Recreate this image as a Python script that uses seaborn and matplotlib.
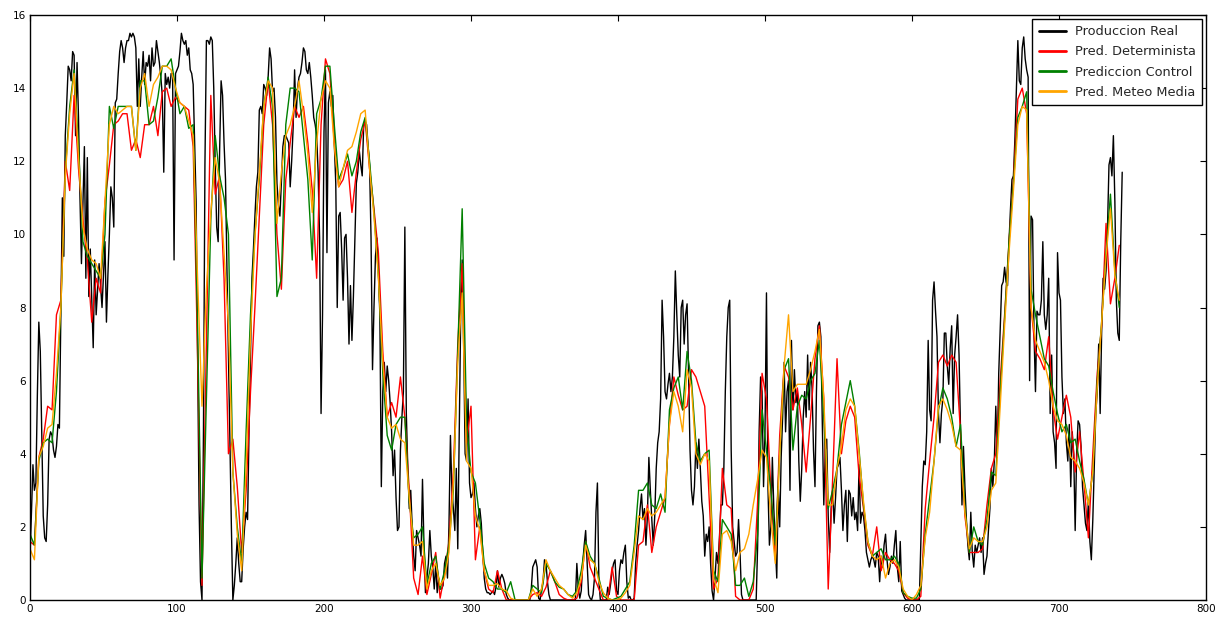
import numpy as np
import pandas as pd
import seaborn as sns
import matplotlib
matplotlib.use("Agg")
import matplotlib.pyplot as plt

# Hourly measured production, split by stretches of the month
real_a = [  # hours 0-135
    1.2, 2.4, 3.7, 3.0, 3.2, 5.6, 7.6, 6.8, 4.5, 2.3,
    1.7, 1.6, 2.6, 4.4, 4.6, 4.5, 4.1, 3.9, 4.2, 4.8,
    4.7, 7.9, 11.0, 9.4, 12.7, 13.6, 14.6, 14.5, 14.2, 15.0,
    14.9, 12.7, 14.7, 13.2, 11.0, 9.2, 10.8, 12.4, 8.8, 12.1,
    8.3, 9.6, 8.2, 6.9, 9.3, 7.8, 8.5, 9.2, 8.6, 8.0,
    8.9, 9.8, 7.6, 8.9, 10.0, 11.3, 11.0, 10.2, 13.6, 13.7,
    14.4, 15.0, 15.3, 15.1, 14.7, 15.1, 15.3, 15.3,
    15.5, 15.4, 15.5, 15.4, 15.1, 13.5, 14.8, 13.5, 14.3, 15.0,
    14.1, 14.7, 14.6, 14.9, 14.2, 15.1, 14.6, 14.7, 15.3, 15.0,
    14.7, 14.3, 13.8, 11.7, 14.4, 14.1, 14.3, 14.0, 14.4, 14.4,
    9.3, 14.4, 14.5, 14.6, 15.0, 15.5, 15.3, 15.2, 15.3, 14.9,
    15.1, 14.5, 14.4, 14.1, 12.5, 10.9, 6.7, 2.6, 0.5, 0.0,
    4.6, 11.9, 15.3, 15.3, 15.2, 15.4, 15.3, 14.0, 11.9, 10.2,
    9.8, 12.3, 14.2, 13.8, 12.5, 11.5, 9.0, 6.7,
]
real_b = [  # hours 136-270
    4.3, 2.0, 0.0, 0.4, 1.0, 1.7, 1.0, 0.5, 0.5, 1.4,
    2.0, 2.4, 2.2, 4.6, 6.7, 8.8, 9.6, 10.5, 11.3, 11.7,
    13.4, 13.5, 13.3, 14.1, 14.0, 13.8, 14.3, 15.1, 14.8, 13.9,
    14.0, 13.2, 11.4, 10.8, 10.5, 11.4, 12.4, 12.7, 12.7, 12.6,
    12.5, 11.3, 12.0, 12.9, 14.5, 13.2, 14.0, 14.3, 14.4, 14.7,
    15.1, 15.0, 14.5, 14.4, 14.7, 14.3, 13.8, 13.2, 13.0, 12.7,
    11.7, 9.9, 5.1, 7.8, 12.8, 14.5,
    9.5, 13.6, 13.9, 13.5, 13.8, 12.5, 11.4, 8.0, 10.5, 10.6,
    9.6, 8.2, 9.9, 10.0, 8.8, 7.0, 8.6, 7.1, 8.3, 9.9,
    11.4, 11.7, 12.3, 11.9, 11.6, 13.0, 13.1, 13.0, 12.4, 11.9,
    9.9, 6.3, 8.0, 9.4, 9.9, 9.0, 7.8, 3.1, 5.7, 6.5,
    5.7, 6.4, 6.0, 5.4, 4.6, 3.4, 4.1, 2.8, 1.9, 2.0,
    4.1, 5.0, 5.7, 10.2, 5.1, 3.6, 2.5, 3.0, 2.0, 1.2,
    0.8, 1.9, 1.7, 1.5, 1.2, 3.3, 1.5, 0.2, 0.6,
]
real_c = [  # hours 271-404
    1.0, 1.9, 1.2, 0.9, 0.3, 1.0, 0.2, 0.6, 0.3, 0.3,
    0.4, 1.0, 1.2, 0.6, 2.0, 4.5, 3.0, 2.5, 1.9, 3.6,
    1.4, 4.6, 7.8, 9.3, 7.0, 4.0, 3.8, 5.5, 3.2, 2.8,
    2.9, 3.2, 2.5, 2.0, 2.3, 2.5, 2.1, 1.3, 0.6, 0.3,
    0.2, 0.2, 0.15, 0.2, 0.25, 0.15, 0.35, 0.8, 0.35, 0.6,
    0.7, 0.6, 0.45, 0.15, 0.05, 0.0, 0.0, 0.0, 0.0, 0.0,
    0.0, 0.0, 0.0, 0.0, 0.0, 0.0, 0.0, 0.0, 0.0, 0.0,
    0.3, 0.9, 1.0, 1.1, 0.9, 0.05, 0.0, 0.3, 0.5, 1.1,
    1.0, 0.5, 0.15, 0.0, 0.0, 0.0, 0.0, 0.0, 0.0, 0.0,
    0.0, 0.0, 0.0, 0.0, 0.0, 0.0, 0.0, 0.0, 0.0, 0.0,
    0.0, 1.0, 0.3, 0.05, 0.25, 1.0, 1.5, 1.9, 1.0, 0.15,
    0.05, 0.0, 0.15, 0.6, 2.4, 3.2, 0.5, 0.0, 0.0, 0.0,
    0.0, 0.0, 0.35, 0.15, 0.45, 0.8, 1.0, 1.1, 0.25, 0.15,
    0.8, 1.1, 1.0, 1.3,
]
real_d = [  # hours 405-544
    1.5, 0.5, 0.05, 0.1, 0.0, 0.0, 0.05, 1.0, 1.5, 1.9,
    2.5, 2.9, 2.2, 2.5, 1.5, 2.3, 3.9, 3.0, 2.2, 1.5,
    2.3, 3.6, 4.3, 4.6, 5.5, 8.2, 7.2, 5.7, 5.5, 5.9,
    6.2, 5.7, 6.1, 7.2, 9.0, 7.8, 6.7, 6.1, 8.0, 8.2,
    7.0, 7.8, 8.1, 6.2, 4.1, 3.0, 2.6, 3.1, 4.3, 3.6,
    4.4, 3.6, 2.7, 2.3, 1.2, 1.8, 1.6, 2.0, 1.0, 0.25,
    0.0, 0.6, 1.3, 1.0, 1.7, 2.6, 2.6, 3.6, 5.7, 7.2,
    8.0, 8.2, 4.1, 2.0, 1.6, 1.2, 1.3, 2.2, 1.3, 0.15,
    0.0, 0.0, 0.0, 0.0, 0.0, 0.0, 0.0, 0.0, 0.0, 0.0,
    1.5, 4.6, 6.1, 5.7, 3.1, 4.6, 8.4, 3.1, 1.5, 2.0,
    3.9, 2.5, 1.5, 0.6, 3.1, 2.0, 3.9, 5.0, 6.5, 4.6,
    5.7, 6.0, 3.0, 7.1, 5.2, 6.3, 5.4, 5.7, 3.8, 2.7,
    3.6, 5.0, 5.7, 5.0, 6.7, 5.2, 6.5, 5.8, 4.1, 3.1,
    5.7, 7.5, 7.6, 7.2, 4.8, 2.6, 4.1, 4.4, 2.3, 1.3,
]
real_e = [  # hours 545-743
    2.5, 3.0, 2.1, 2.8, 3.6, 3.7, 3.9, 3.0, 1.9, 2.6,
    3.0, 1.6, 3.0, 2.9, 2.3, 2.8, 2.2, 2.4, 1.9, 3.7,
    2.1, 2.4, 2.3, 1.9, 1.3, 1.1, 0.9, 1.1, 1.2, 1.1,
    0.9, 1.3, 1.2, 0.5, 1.2, 0.9, 1.5, 1.8, 1.1, 0.7,
    0.9, 1.2, 1.0, 1.5, 1.9, 0.9, 0.5, 1.6, 0.25, 0.15,
    0.05, 0.0, 0.0, 0.0, 0.0, 0.0, 0.0, 0.0, 0.0, 0.0,
    0.0,
    1.5, 3.1, 3.8, 3.7, 4.6, 7.1, 5.2, 4.9, 8.2, 8.7,
    7.9, 7.2, 5.1, 4.3, 5.1, 5.5, 7.3, 7.3, 6.4, 5.9,
    6.9, 7.5, 5.1, 6.7, 7.2, 7.8, 6.7, 4.6, 2.6, 4.2,
    3.1, 2.2, 1.5, 1.1, 2.4, 1.3, 0.9, 1.5, 1.3, 1.5,
    1.7, 1.3, 1.7, 0.7, 1.0, 1.2, 1.9, 2.5, 3.6, 3.1,
    3.8, 5.3, 3.9, 6.2, 7.4, 8.6, 8.7, 9.1, 8.7, 8.6,
    9.8, 10.7, 11.5, 11.6, 12.6, 14.0, 15.3, 14.2, 14.1, 15.1,
    15.4, 14.8, 14.5, 14.3,
    6.0, 10.5, 10.4, 7.3, 5.7, 7.9, 7.8, 7.8, 8.2, 9.8,
    7.8, 7.4, 7.8, 8.8, 5.1, 6.7, 4.6, 4.3, 3.6, 9.5,
    8.4, 8.2, 6.1, 5.1, 5.5, 4.3, 3.8, 4.8, 3.1, 4.6,
    4.0, 1.9, 4.0, 4.9, 4.8, 4.2, 3.1, 2.6, 2.1, 1.9,
    2.7, 1.6, 1.1, 2.2, 3.6, 5.1, 5.7, 7.0, 5.1, 7.3,
    8.8, 8.5, 9.0, 10.2, 11.9, 12.1, 11.6, 12.7, 10.9, 8.2,
    7.3, 7.1, 9.8, 11.7,
]

# Three-hourly forecasts
pred_determinista = [
    1.6, 1.5, 3.9, 4.4, 5.3, 5.2, 7.8, 8.2, 12.0, 11.2,
    13.8, 11.8, 10.4, 9.3, 7.6, 8.8, 8.4, 10.9, 11.9, 13.0,
    13.1, 13.3, 13.3, 12.3, 12.6, 12.1, 13.0, 13.0, 13.5, 12.7,
    13.9, 14.0, 13.5, 13.75, 13.6, 13.5, 13.4, 12.4, 6.7, 0.4,
    7.0, 13.8, 11.1, 11.6, 8.8, 4.0, 4.4, 3.1, 1.3, 3.0,
    5.7, 8.0, 10.5, 13.0, 14.2, 13.0, 10.0, 8.5, 11.5, 12.5,
    13.5, 13.2, 13.5, 12.5, 11.2, 8.8, 13.0, 14.8, 14.4, 12.5,
    11.3, 11.5, 12.0, 10.6, 11.7, 12.6, 13.1, 11.8, 10.7, 9.5,
    6.8, 5.0, 5.4, 5.0, 6.1, 5.0, 3.0, 0.6, 0.15, 1.2,
    0.15, 0.7, 1.3, 0.05, 0.7, 1.6, 3.5, 7.0, 9.2, 4.3,
    5.3, 1.1, 2.0, 0.8, 0.3, 0.2, 0.8, 0.3, 0.0, 0.0,
    0.0, 0.0, 0.0, 0.0, 0.15, 0.2, 0.1, 0.35, 0.8, 0.5,
    0.15, 0.05, 0.0, 0.0, 0.05, 0.5, 1.6, 0.9, 0.6, 0.3,
    0.0, 0.0, 0.9, 0.1, 0.0, 0.0, 0.0, 0.0, 1.5, 1.6,
    2.6, 1.3, 2.0, 2.4, 2.8, 4.8, 6.1, 5.6, 5.2, 5.3,
    6.3, 6.1, 5.7, 5.3, 2.8, 0.3, 0.6, 3.6, 2.6, 2.5,
    0.1, 0.0, 0.0, 0.0, 0.3, 2.7, 6.2, 5.5, 3.0, 1.1,
    4.5, 6.4, 6.1, 5.2, 5.8, 4.8, 3.5, 5.0, 6.6, 7.5,
    5.5, 0.3, 3.3, 6.6, 4.0, 4.9, 5.3, 5.0, 3.4, 2.5,
    1.5, 1.2, 2.0, 0.8, 1.3, 1.1, 1.0, 0.8, 0.2, 0.05,
    0.0, 0.0, 0.1, 2.5, 3.8, 5.0, 6.5, 6.7, 6.4, 6.7,
    6.5, 4.6, 2.3, 1.3, 1.3, 1.3, 1.4, 2.6, 3.6, 4.0,
    6.0, 7.8, 9.8, 11.5, 13.7, 14.0, 13.3, 8.0, 6.8, 6.6,
    6.3, 7.2, 5.2, 4.4, 5.0, 5.6, 5.0, 3.5, 4.6, 3.2,
    1.7, 4.0, 6.2, 7.5, 10.3, 8.1, 8.8, 9.7,
]
pred_control = [
    1.8, 1.5, 3.8, 4.3, 4.4, 4.3, 5.7, 8.0, 11.7, 13.5,
    14.5, 12.4, 9.8, 9.4, 9.2, 9.0, 8.8, 10.0, 13.5, 12.9,
    13.5, 13.5, 13.5, 13.5, 12.3, 14.2, 14.2, 13.0, 13.1, 13.75,
    14.6, 14.6, 14.8, 14.0, 13.3, 13.5, 12.9, 13.0, 7.5, 0.6,
    5.5, 10.4, 12.7, 11.6, 11.0, 10.0, 3.5, 2.0, 1.0, 4.6,
    7.8, 10.0, 11.5, 13.5, 14.3, 13.5, 8.3, 8.8, 13.0, 14.0,
    14.0, 13.9, 12.7, 11.5, 9.3, 13.3, 13.7, 14.6, 14.6, 13.0,
    11.5, 11.8, 12.2, 11.6, 12.0, 12.8, 13.2, 12.0, 10.6, 8.9,
    6.2, 4.5, 4.1, 4.8, 5.0, 5.0, 2.7, 1.7, 1.8, 2.0,
    0.4, 1.0, 1.2, 0.3, 0.8, 1.5, 3.0, 6.8, 10.7, 4.8,
    3.5, 3.2, 2.2, 1.0, 0.6, 0.5, 0.3, 0.3, 0.2, 0.5,
    0.0, 0.0, 0.0, 0.0, 0.4, 0.3, 0.2, 1.0, 0.8, 0.5,
    0.35, 0.3, 0.15, 0.1, 0.25, 0.8, 1.6, 1.2, 1.0, 0.6,
    0.1, 0.05, 0.0, 0.05, 0.1, 0.3, 0.5, 1.5, 3.0, 3.0,
    3.2, 2.6, 2.5, 2.9, 2.4, 5.2, 5.8, 6.1, 5.2, 6.8,
    6.0, 4.3, 3.8, 4.0, 4.1, 0.8, 0.5, 2.2, 2.0, 1.8,
    0.4, 0.4, 0.6, 0.1, 0.5, 1.8, 5.2, 4.1, 3.0, 1.5,
    4.0, 6.3, 6.6, 4.1, 5.3, 5.6, 5.5, 6.0, 6.2, 7.1,
    5.0, 2.5, 3.0, 3.6, 4.8, 5.4, 6.0, 5.3, 4.1, 2.6,
    1.6, 1.2, 1.3, 1.4, 1.1, 1.1, 1.2, 1.0, 0.2, 0.1,
    0.05, 0.05, 0.3, 1.8, 2.8, 3.8, 5.2, 5.8, 5.5, 5.0,
    4.2, 4.8, 2.5, 1.3, 2.0, 1.6, 1.5, 2.2, 3.5, 3.4,
    5.7, 7.7, 9.8, 11.4, 13.2, 13.5, 13.9, 8.5, 7.8, 7.2,
    6.6, 6.4, 5.7, 5.1, 4.6, 4.8, 4.3, 4.4, 3.8, 3.3,
    2.6, 3.5, 6.0, 7.6, 9.5, 11.1, 9.0, 8.0,
]
pred_meteo_media = [
    1.4, 1.1, 3.9, 4.2, 4.7, 4.8, 6.2, 8.0, 11.6, 13.3,
    14.4, 12.1, 10.2, 9.6, 9.3, 9.2, 8.8, 10.9, 13.0, 13.5,
    13.3, 13.4, 13.5, 13.5, 12.3, 14.0, 14.4, 13.5, 14.1, 14.3,
    14.6, 14.6, 14.5, 14.0, 13.6, 13.5, 13.1, 12.7, 8.8, 5.3,
    8.5, 10.6, 12.1, 11.4, 9.5, 7.5, 3.5, 1.8, 0.8, 3.6,
    7.2, 9.9, 11.7, 13.5, 14.2, 14.0, 10.3, 11.7, 12.7, 13.0,
    13.5, 14.2, 13.3, 12.2, 10.6, 12.5, 13.7, 14.2, 14.0, 12.4,
    11.3, 11.8, 12.3, 12.4, 12.8, 13.3, 13.4, 11.8, 10.5, 8.8,
    6.5, 5.0, 4.7, 4.8, 4.4, 4.3, 2.8, 1.5, 1.5, 1.6,
    0.3, 0.8, 1.0, 0.4, 0.6, 1.3, 3.2, 6.5, 8.4, 3.8,
    3.6, 2.3, 1.9, 0.8, 0.4, 0.4, 0.45, 0.3, 0.25, 0.05,
    0.0, 0.0, 0.0, 0.0, 0.3, 0.1, 0.3, 1.1, 0.8, 0.6,
    0.4, 0.3, 0.15, 0.05, 0.2, 0.6, 1.5, 1.1, 1.0, 0.5,
    0.2, 0.05, 0.0, 0.0, 0.05, 0.2, 0.4, 1.3, 2.3, 2.2,
    2.5, 2.3, 2.4, 2.6, 2.8, 4.8, 5.7, 5.3, 4.6, 6.3,
    5.8, 4.0, 3.7, 4.0, 3.8, 0.6, 0.2, 1.8, 1.9, 1.6,
    0.8, 1.3, 1.4, 1.8, 2.6, 3.3, 4.1, 3.9, 2.2, 1.0,
    4.0, 6.4, 7.8, 5.7, 5.9, 5.9, 5.9, 6.3, 6.8, 7.4,
    5.5, 2.6, 2.6, 3.6, 4.2, 5.2, 5.5, 5.3, 4.0, 2.7,
    1.6, 1.2, 1.1, 1.2, 0.6, 1.0, 1.1, 0.9, 0.3, 0.1,
    0.0, 0.15, 0.4, 1.7, 2.4, 3.8, 5.3, 5.5, 5.2, 4.8,
    4.2, 4.1, 2.4, 1.4, 1.7, 1.6, 1.6, 2.0, 3.0, 3.2,
    5.3, 7.5, 9.5, 11.2, 13.0, 13.5, 13.4, 8.0, 7.1, 6.8,
    6.5, 6.0, 5.3, 4.9, 4.8, 4.5, 3.9, 3.8, 3.6, 3.2,
    2.6, 3.5, 5.8, 7.6, 9.4, 10.7, 8.9, 8.2,
]

labels = ["Produccion Real", "Pred. Determinista",
          "Prediccion Control", "Pred. Meteo Media"]
colors = ["black", "red", "green", "orange"]

real = np.concatenate([real_a, real_b, real_c, real_d, real_e])
hours = np.arange(len(real))
fc_hours = np.arange(len(pred_determinista)) * 3

sns.set_theme(style="white")
plt.rcParams["font.family"] = ["DejaVu Sans"]

fig = plt.figure(figsize=(12.17, 6.17), dpi=100)
ax = fig.add_axes([30 / 1217, 17 / 617, 1176 / 1217, 585 / 617])

sns.lineplot(x=hours, y=real, color=colors[0], linewidth=1.0,
             label=labels[0], ax=ax, estimator=None)
for series, lab, col in zip([pred_determinista, pred_control, pred_meteo_media],
                            labels[1:], colors[1:]):
    sns.lineplot(x=fc_hours, y=series, color=col, linewidth=1.0,
                 label=lab, ax=ax, estimator=None)

ax.set_xlim(0, 800)
ax.set_ylim(0, 16)
ax.set_xticks(np.arange(0, 801, 100))
ax.set_yticks(np.arange(0, 17, 2))
ax.set_xlabel("")
ax.set_ylabel("")
ax.tick_params(direction="in", top=True, right=True, length=4, width=0.8,
               labelsize=7.5, colors="black", pad=3)
for sp in ax.spines.values():
    sp.set_color("black")
    sp.set_linewidth(1.0)

leg = ax.legend(loc="upper right", fancybox=False, frameon=True,
                edgecolor="black", framealpha=1, fontsize=9.3,
                borderaxespad=0.3, handlelength=2.1, handletextpad=0.7,
                borderpad=0.5, labelspacing=0.55)
leg.get_frame().set_linewidth(1.0)
for line in leg.get_lines():
    line.set_linewidth(2.0)

fig.savefig("out.png", dpi=100)
